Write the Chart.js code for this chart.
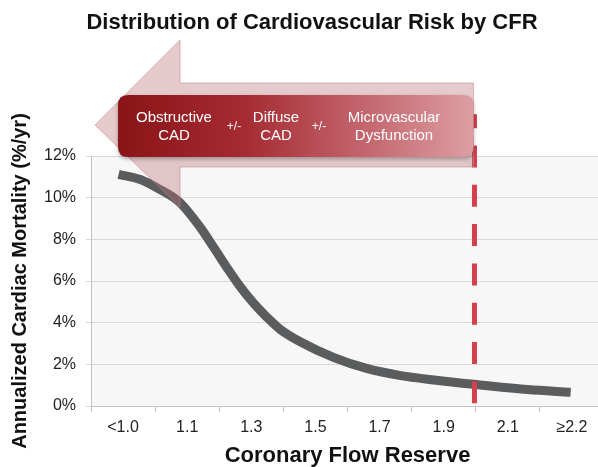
<!DOCTYPE html>
<html>
<head>
<meta charset="utf-8">
<script src="https://cdn.jsdelivr.net/npm/chart.js@4.4.0/dist/chart.umd.min.js"></script>
<style>
    html, body { margin: 0; padding: 0; background: #fff; overflow: hidden; }
    #wrap { width: 604px; height: 467px; }
</style>
</head>
<body>
<div id="wrap"><canvas id="myChart"></canvas></div>
<script>
const FONT = "'Liberation Sans', Arial, Helvetica, sans-serif";

// x axis categories (Coronary Flow Reserve)
const cfrLabels = ["<1.0", "1.1", "1.3", "1.5", "1.7", "1.9", "2.1", "≥2.2"];

// risk curve: position along the CFR axis (in category widths) and mortality %/yr
const curveX = [0.43, 0.77, 1.03, 1.39, 1.70, 1.91, 2.12, 2.33, 2.54, 2.75, 2.95, 3.27, 3.79, 4.31, 4.83, 5.35, 5.97, 6.81, 7.48];
const curveY = [11.12, 10.87, 10.47, 9.76, 8.59, 7.63, 6.64, 5.71, 4.92, 4.24, 3.68, 3.07, 2.32, 1.79, 1.46, 1.25, 1.04, 0.79, 0.66];

// y axis ticks (%)
const yTicks = [0, 2, 4, 6, 8, 10, 12];

// dashed cut-off at CFR 2.0
const thresholdX = 5.98;
const thresholdY = [0, 14];

// banner text
const bannerTerms = [
    { lines: ["Obstructive", "CAD"], x: 83 },
    { lines: ["+/-"], x: 143, small: true },
    { lines: ["Diffuse", "CAD"], x: 185 },
    { lines: ["+/-"], x: 228, small: true },
    { lines: ["Microvascular", "Dysfunction"], x: 303 },
];

const curvePoints = curveX.map((x, i) => ({ x: x, y: curveY[i] }));
const thresholdPoints = thresholdY.map((y) => ({ x: thresholdX, y: y }));

function roundRect(ctx, x, y, w, h, r) {
    ctx.beginPath();
    ctx.moveTo(x + r, y);
    ctx.lineTo(x + w - r, y);
    ctx.quadraticCurveTo(x + w, y, x + w, y + r);
    ctx.lineTo(x + w, y + h - r);
    ctx.quadraticCurveTo(x + w, y + h, x + w - r, y + h);
    ctx.lineTo(x + r, y + h);
    ctx.quadraticCurveTo(x, y + h, x, y + h - r);
    ctx.lineTo(x, y + r);
    ctx.quadraticCurveTo(x, y, x + r, y);
    ctx.closePath();
}

const decorPlugin = {
    id: "decor",
    beforeDraw(chart) {
        // light grey plot background
        const { ctx, chartArea: a } = chart;
        ctx.save();
        ctx.fillStyle = "#f7f7f7";
        ctx.fillRect(a.left, a.top, a.right - a.left, a.bottom - a.top);
        ctx.restore();
    },
    afterDatasetsDraw(chart) {
        const { ctx, chartArea: a } = chart;
        const right = chart.scales.x2.getPixelForValue(thresholdX) - 1;
        const left = a.left;
        const top = a.top;

        // big pale arrow pointing to low CFR
        ctx.save();
        ctx.beginPath();
        ctx.moveTo(left + 4, top - 31);
        ctx.lineTo(left + 89, top - 116);
        ctx.lineTo(left + 89, top - 73);
        ctx.lineTo(right, top - 73);
        ctx.lineTo(right, top + 11);
        ctx.lineTo(left + 89, top + 11);
        ctx.lineTo(left + 89, top + 51);
        ctx.closePath();
        ctx.fillStyle = "rgba(185, 110, 118, 0.36)";
        ctx.fill();
        ctx.strokeStyle = "rgba(200, 130, 136, 0.55)";
        ctx.lineWidth = 1;
        ctx.stroke();
        ctx.restore();

        // dark red banner
        const bx = left + 27;
        const by = top - 61;
        const bw = right - bx;
        const bh = 62;
        ctx.save();
        const grad = ctx.createLinearGradient(bx, 0, bx + bw, 0);
        grad.addColorStop(0, "#8a1418");
        grad.addColorStop(0.35, "#a52a31");
        grad.addColorStop(0.7, "#c4676f");
        grad.addColorStop(1, "#dc9ea2");
        ctx.shadowColor = "rgba(0, 0, 0, 0.3)";
        ctx.shadowBlur = 4;
        ctx.shadowOffsetY = 2;
        roundRect(ctx, bx, by, bw, bh, 10);
        ctx.fillStyle = grad;
        ctx.fill();
        ctx.restore();

        ctx.save();
        ctx.fillStyle = "#ffffff";
        ctx.textAlign = "center";
        ctx.textBaseline = "middle";
        bannerTerms.forEach((term) => {
            ctx.font = (term.small ? "12px " : "15px ") + FONT;
            if (term.lines.length === 1) {
                ctx.fillText(term.lines[0], left + term.x, by + 32);
            } else {
                ctx.fillText(term.lines[0], left + term.x, by + 23);
                ctx.fillText(term.lines[1], left + term.x, by + 41);
            }
        });
        ctx.restore();
    },
    afterDraw(chart) {
        const { ctx } = chart;
        ctx.save();
        ctx.fillStyle = "#111111";
        ctx.font = "bold 22px " + FONT;
        ctx.textAlign = "center";
        ctx.textBaseline = "middle";
        ctx.fillText("Distribution of Cardiovascular Risk by CFR", 312, 23);
        ctx.restore();
    },
};

const ctx = document.getElementById("myChart").getContext("2d");

new Chart(ctx, {
    type: "line",
    data: {
        labels: cfrLabels,
        datasets: [
            {
                label: "CFR 2.0",
                data: thresholdPoints,
                xAxisID: "x2",
                borderColor: "#d1404b",
                borderWidth: 5,
                borderDash: [22, 17.3],
                borderDashOffset: 36.6,
                borderCapStyle: "butt",
                pointRadius: 0,
                clip: false,
                order: 0,
            },
            {
                label: "Annualized cardiac mortality",
                data: curvePoints,
                xAxisID: "x2",
                borderColor: "#5b5c5e",
                borderWidth: 9,
                borderCapStyle: "butt",
                cubicInterpolationMode: "monotone",
                pointRadius: 0,
                order: 1,
            },
        ],
    },
    options: {
        responsive: true,
        maintainAspectRatio: false,
        animation: false,
        layout: { padding: { top: 156, right: 0, bottom: 0, left: 0 } },
        plugins: {
            legend: { display: false },
            tooltip: { enabled: false },
        },
        scales: {
            x: {
                type: "category",
                offset: true,
                grid: {
                    offset: true,
                    drawOnChartArea: false,
                    drawTicks: true,
                    tickLength: 6,
                    color: "#c4c4c4",
                },
                border: { color: "#c4c4c4" },
                ticks: {
                    color: "#222222",
                    padding: 6,
                    maxRotation: 0,
                    font: { family: FONT, size: 16 },
                },
                title: {
                    display: true,
                    text: "Coronary Flow Reserve",
                    color: "#111111",
                    padding: { top: 0, bottom: 0 },
                    font: { family: FONT, size: 22, weight: "bold", lineHeight: 1 },
                },
                afterFit(scale) {
                    scale.height = 467 - 406;
                },
            },
            x2: {
                type: "linear",
                display: false,
                min: 0,
                max: cfrLabels.length,
            },
            y: {
                min: yTicks[0],
                max: yTicks[yTicks.length - 1],
                afterBuildTicks(scale) {
                    scale.ticks = yTicks.map((v) => ({ value: v }));
                },
                grid: {
                    color: "#d9d9d9",
                    tickLength: 5,
                },
                border: { color: "#c4c4c4" },
                ticks: {
                    color: "#222222",
                    padding: 10,
                    font: { family: FONT, size: 16 },
                    callback: (value) => value + "%",
                },
                title: {
                    display: true,
                    text: "Annualized Cardiac Mortality (%/yr)",
                    color: "#111111",
                    padding: { top: 10, bottom: 0 },
                    font: { family: FONT, size: 20, weight: "bold", lineHeight: 1 },
                },
                afterFit(scale) {
                    scale.width = 91;
                },
            },
        },
    },
    plugins: [decorPlugin],
});
</script>
</body>
</html>
